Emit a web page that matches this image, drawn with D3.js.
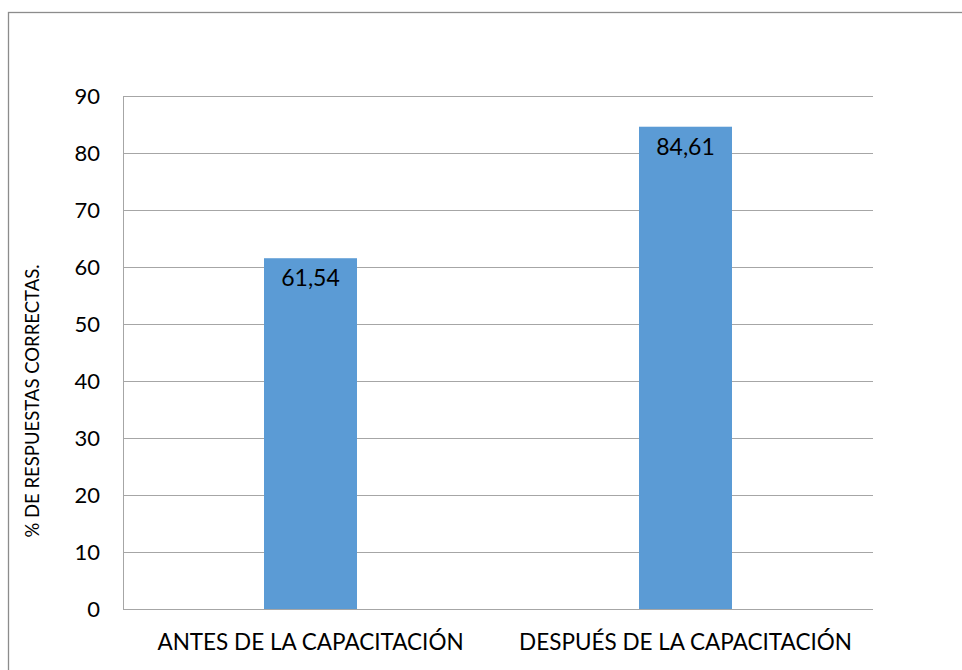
<!DOCTYPE html>
<html>
<head>
<meta charset="utf-8">
<script src="https://cdn.jsdelivr.net/npm/d3@7"></script>
<style>
    body { margin: 0; background: #fff; }
    text { font-family: Lato, "Noto Sans", sans-serif; fill: #000; }
</style>
</head>
<body>
<div id="chart"></div>
<script>
// datos
const categorias = ["ANTES DE LA CAPACITACIÓN", "DESPUÉS DE LA CAPACITACIÓN"];
const valores = [61.54, 84.61];
const etiquetas = ["61,54", "84,61"];
const ticksY = [0, 10, 20, 30, 40, 50, 60, 70, 80, 90];

const width = 962, height = 670;
const margin = { left: 123, right: 89, top: 96, bottom: 61 };
const gWidth = width - margin.left - margin.right;
const gHeight = height - margin.top - margin.bottom;

const svg = d3.select('#chart')
    .append('svg')
    .attr('width', width)
    .attr('height', height);

// marco
svg.append('rect')
    .attr('x', 8.5).attr('y', 12.5)
    .attr('width', 980).attr('height', 700)
    .attr('fill', 'none')
    .attr('stroke', '#8c8c8c')
    .attr('stroke-width', 1.3);

const g = svg.append('g')
    .attr('transform', `translate(${margin.left},${margin.top})`);

const y = d3.scaleLinear().domain([0, 90]).range([gHeight, 0]);
const x = d3.scaleBand()
    .domain(categorias)
    .range([0, gWidth])
    .paddingInner(0.752)
    .paddingOuter(0.376);

// lineas de cuadricula
g.selectAll('.grid')
    .data(ticksY.filter(d => d > 0))
    .enter()
    .append('line')
    .attr('x1', 0).attr('x2', gWidth)
    .attr('y1', d => Math.round(y(d)) + 0.5)
    .attr('y2', d => Math.round(y(d)) + 0.5)
    .attr('stroke', '#a6a6a6')
    .attr('stroke-width', 1);

// eje y
const yAxis = d3.axisLeft(y).tickValues(ticksY).tickSize(0).tickPadding(23);
g.append('g')
    .call(yAxis)
    .call(s => s.select('.domain').remove())
    .selectAll('text')
    .style('font-size', '22px')
    .attr('dy', '0.35em');

g.append('line')
    .attr('x1', 0.5).attr('x2', 0.5)
    .attr('y1', 0).attr('y2', gHeight)
    .attr('stroke', '#a6a6a6');

// barras
g.selectAll('rect.bar')
    .data(valores)
    .enter()
    .append('rect')
    .attr('class', 'bar')
    .attr('x', (d, i) => x(categorias[i]))
    .attr('y', d => y(d))
    .attr('width', x.bandwidth())
    .attr('height', d => gHeight - y(d))
    .style('fill', '#5b9bd5');

g.append('line')
    .attr('x1', 0).attr('x2', gWidth)
    .attr('y1', gHeight + 0.5).attr('y2', gHeight + 0.5)
    .attr('stroke', '#a6a6a6');

// etiquetas de datos
g.selectAll('text.lbl')
    .data(valores)
    .enter()
    .append('text')
    .attr('class', 'lbl')
    .attr('x', (d, i) => x(categorias[i]) + x.bandwidth() / 2)
    .attr('y', d => y(d) + 28)
    .attr('text-anchor', 'middle')
    .style('font-size', '23px')
    .text((d, i) => etiquetas[i]);

// eje x
const xAxis = d3.axisBottom(x).tickSize(0).tickPadding(25);
g.append('g')
    .attr('transform', `translate(0,${gHeight})`)
    .call(xAxis)
    .call(s => s.select('.domain').remove())
    .selectAll('text')
    .style('font-size', '22.5px');

// titulo eje y
svg.append('text')
    .attr('transform', 'translate(39,401) rotate(-90)')
    .attr('text-anchor', 'middle')
    .style('font-size', '18.5px')
    .text('%  DE RESPUESTAS CORRECTAS.');
</script>
</body>
</html>
